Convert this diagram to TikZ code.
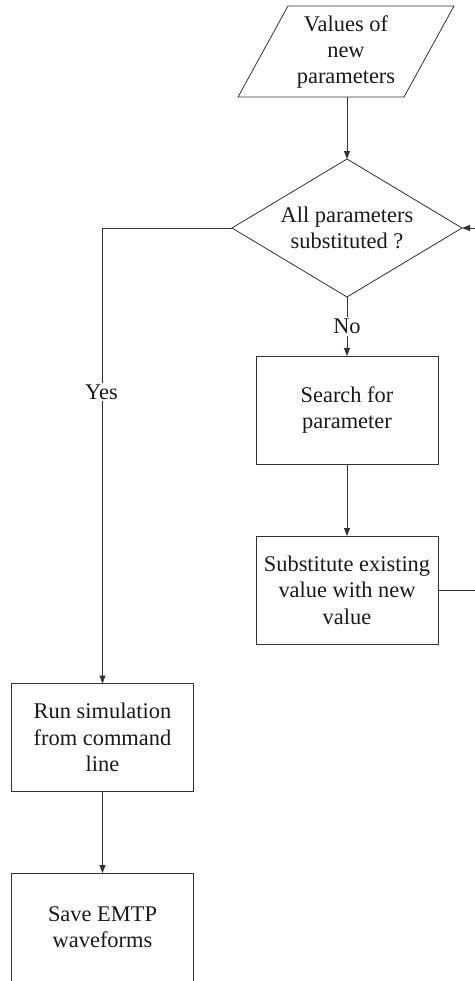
\documentclass[tikz,border=0pt]{standalone}
\usepackage{fontspec}
\setmainfont{Liberation Serif}
\usetikzlibrary{shapes.geometric,arrows.meta}
\begin{document}
\begin{tikzpicture}[x=1bp,y=-1bp,
  line width=0.8bp,
  every node/.style={font=\fontsize{22.5}{26.5}\selectfont, text=black!90},
  procbox/.style={draw=black!80, rectangle, minimum width=182bp, minimum height=108bp,
    align=center, inner sep=0pt, outer sep=0pt},
  decision/.style={draw=black!80, diamond, aspect=1.667, minimum width=230bp,
    minimum height=138bp, align=center, inner sep=0pt, outer sep=0pt},
  flow/.style={draw=black!80, -{Triangle[length=8bp,width=6bp]}},
  label/.style={fill=white, inner sep=2bp}]
  \useasboundingbox (0,0) rectangle (475,981);
  \clip (0,0) rectangle (475,981);

  % input parallelogram
  \coordinate (pTL) at (288,6);
  \coordinate (pTR) at (454,6);
  \coordinate (pBR) at (404,97);
  \coordinate (pBL) at (238,97);
  \draw[black!80] (pTL) -- (pTR) -- (pBR) -- (pBL) -- cycle;
  \node[align=center] (input) at (346,52) {Values of\\new\\parameters};
  \coordinate (inBot) at (347,97);

  % decision
  \node[decision] (dec) at (347,228) {All parameters\\substituted ?};

  % process boxes
  \node[procbox] (search) at (347,410) {Search for\\parameter};
  \node[procbox] (subst) at (347,590) {Substitute existing\\value with new\\value};
  \node[procbox] (run) at (102.5,737.5) {Run simulation\\from command\\line};
  \node[procbox] (save) at (102.5,927) {Save EMTP\\waveforms};

  % connectors
  \draw[flow] (inBot) -- (dec.north);
  \draw[flow] (dec.south) -- (search.north)
    node[label, pos=0.5] (no) {No};
  \draw[flow] (search.south) -- (subst.north);
  \draw[flow] (dec.west) -| (run.north);
  \node[label] (yes) at (101.5,392) {Yes};
  \draw[flow] (run.south) -- (save.north);
  \draw[flow] (subst.east) -- ++(50,0) |- (dec.east);
\end{tikzpicture}
\end{document}
